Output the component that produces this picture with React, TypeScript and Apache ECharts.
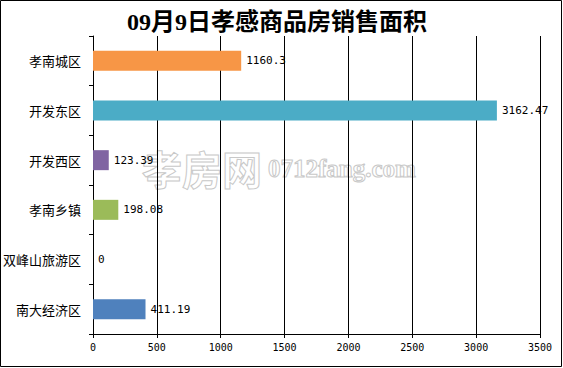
import React, { useEffect, useRef } from "react";
import * as echarts from "echarts";

const titleText = "09月9日孝感商品房销售面积";
const categories = ["孝南城区", "开发东区", "开发西区", "孝南乡镇", "双峰山旅游区", "南大经济区"];
const values = [1160.3, 3162.47, 123.39, 198.08, 0, 411.19];
const valueLabels = ["1160.3", "3162.47", "123.39", "198.08", "0", "411.19"];
const barColors = ["#F79646", "#4BACC6", "#8064A2", "#9BBB59", "#C0504D", "#4F81BD"];
const xMin = 0;
const xMax = 3500;
const xStep = 500;

export default function App() {
  const ref = useRef<HTMLDivElement>(null);
  useEffect(() => {
    document.body.style.margin = "0";
    const chart = echarts.init(ref.current!, undefined, { renderer: "svg" });
    chart.setOption({
      animation: false,
      backgroundColor: "#fff",
      title: {
        text: titleText,
        left: 122,
        top: 5,
        textStyle: {
          fontFamily: "Liberation Serif, Noto Sans CJK SC",
          fontWeight: "bold",
          fontSize: 24,
          color: "#000",
        },
      },
      graphic: {
        elements: [
          {
            type: "rect",
            shape: { x: 0.5, y: 0.5, width: 561, height: 366 },
            style: { fill: "none", stroke: "#000", lineWidth: 1 },
            silent: true,
          },
          {
            type: "text",
            x: 142,
            y: 168,
            silent: true,
            z: -1,
            style: {
              text: "孝房网",
              fontSize: 40,
              fontFamily: "Noto Sans CJK SC",
              fontWeight: "bold",
              fill: "rgba(255,255,255,0)",
              stroke: "#c8c8c8",
              lineWidth: 1,
              verticalAlign: "middle",
            },
          },
          {
            type: "text",
            x: 268,
            y: 168,
            silent: true,
            z: -1,
            style: {
              text: "0712fang.com",
              fontSize: 25,
              fontFamily: "Liberation Serif",
              fontWeight: "bold",
              fill: "rgba(255,255,255,0)",
              stroke: "#c8c8c8",
              lineWidth: 1,
              verticalAlign: "middle",
            },
          },
        ],
      },
      grid: { left: 92, right: 23, top: 36, bottom: 34, containLabel: false },
      xAxis: {
        type: "value",
        min: xMin,
        max: xMax,
        interval: xStep,
        axisLine: { show: true, lineStyle: { color: "#000", width: 1 } },
        axisTick: { show: true, length: 4, lineStyle: { color: "#000" } },
        splitLine: { show: true, lineStyle: { color: "#000", width: 1 } },
        axisLabel: {
          color: "#000",
          fontSize: 10,
          fontFamily: "DejaVu Sans Mono",
          margin: 8,
          formatter: (v: number) => String(v),
        },
      },
      yAxis: {
        type: "category",
        data: categories,
        inverse: true,
        axisLine: { show: true, lineStyle: { color: "#000", width: 1 } },
        axisTick: { show: true, length: 4, lineStyle: { color: "#000" } },
        axisLabel: {
          color: "#000",
          fontSize: 13,
          fontFamily: "Noto Sans CJK SC",
          margin: 12,
        },
      },
      series: [
        {
          type: "bar",
          barWidth: 20,
          data: values.map((v, i) => ({
            value: v,
            itemStyle: { color: barColors[i] },
          })),
          label: {
            show: true,
            position: "right",
            distance: 5,
            color: "#000",
            fontSize: 11,
            fontFamily: "DejaVu Sans Mono",
            formatter: (p: any) => valueLabels[p.dataIndex],
          },
        },
      ],
    });
    return () => chart.dispose();
  }, []);
  return <div ref={ref} style={{ width: 563, height: 368 }} />;
}
